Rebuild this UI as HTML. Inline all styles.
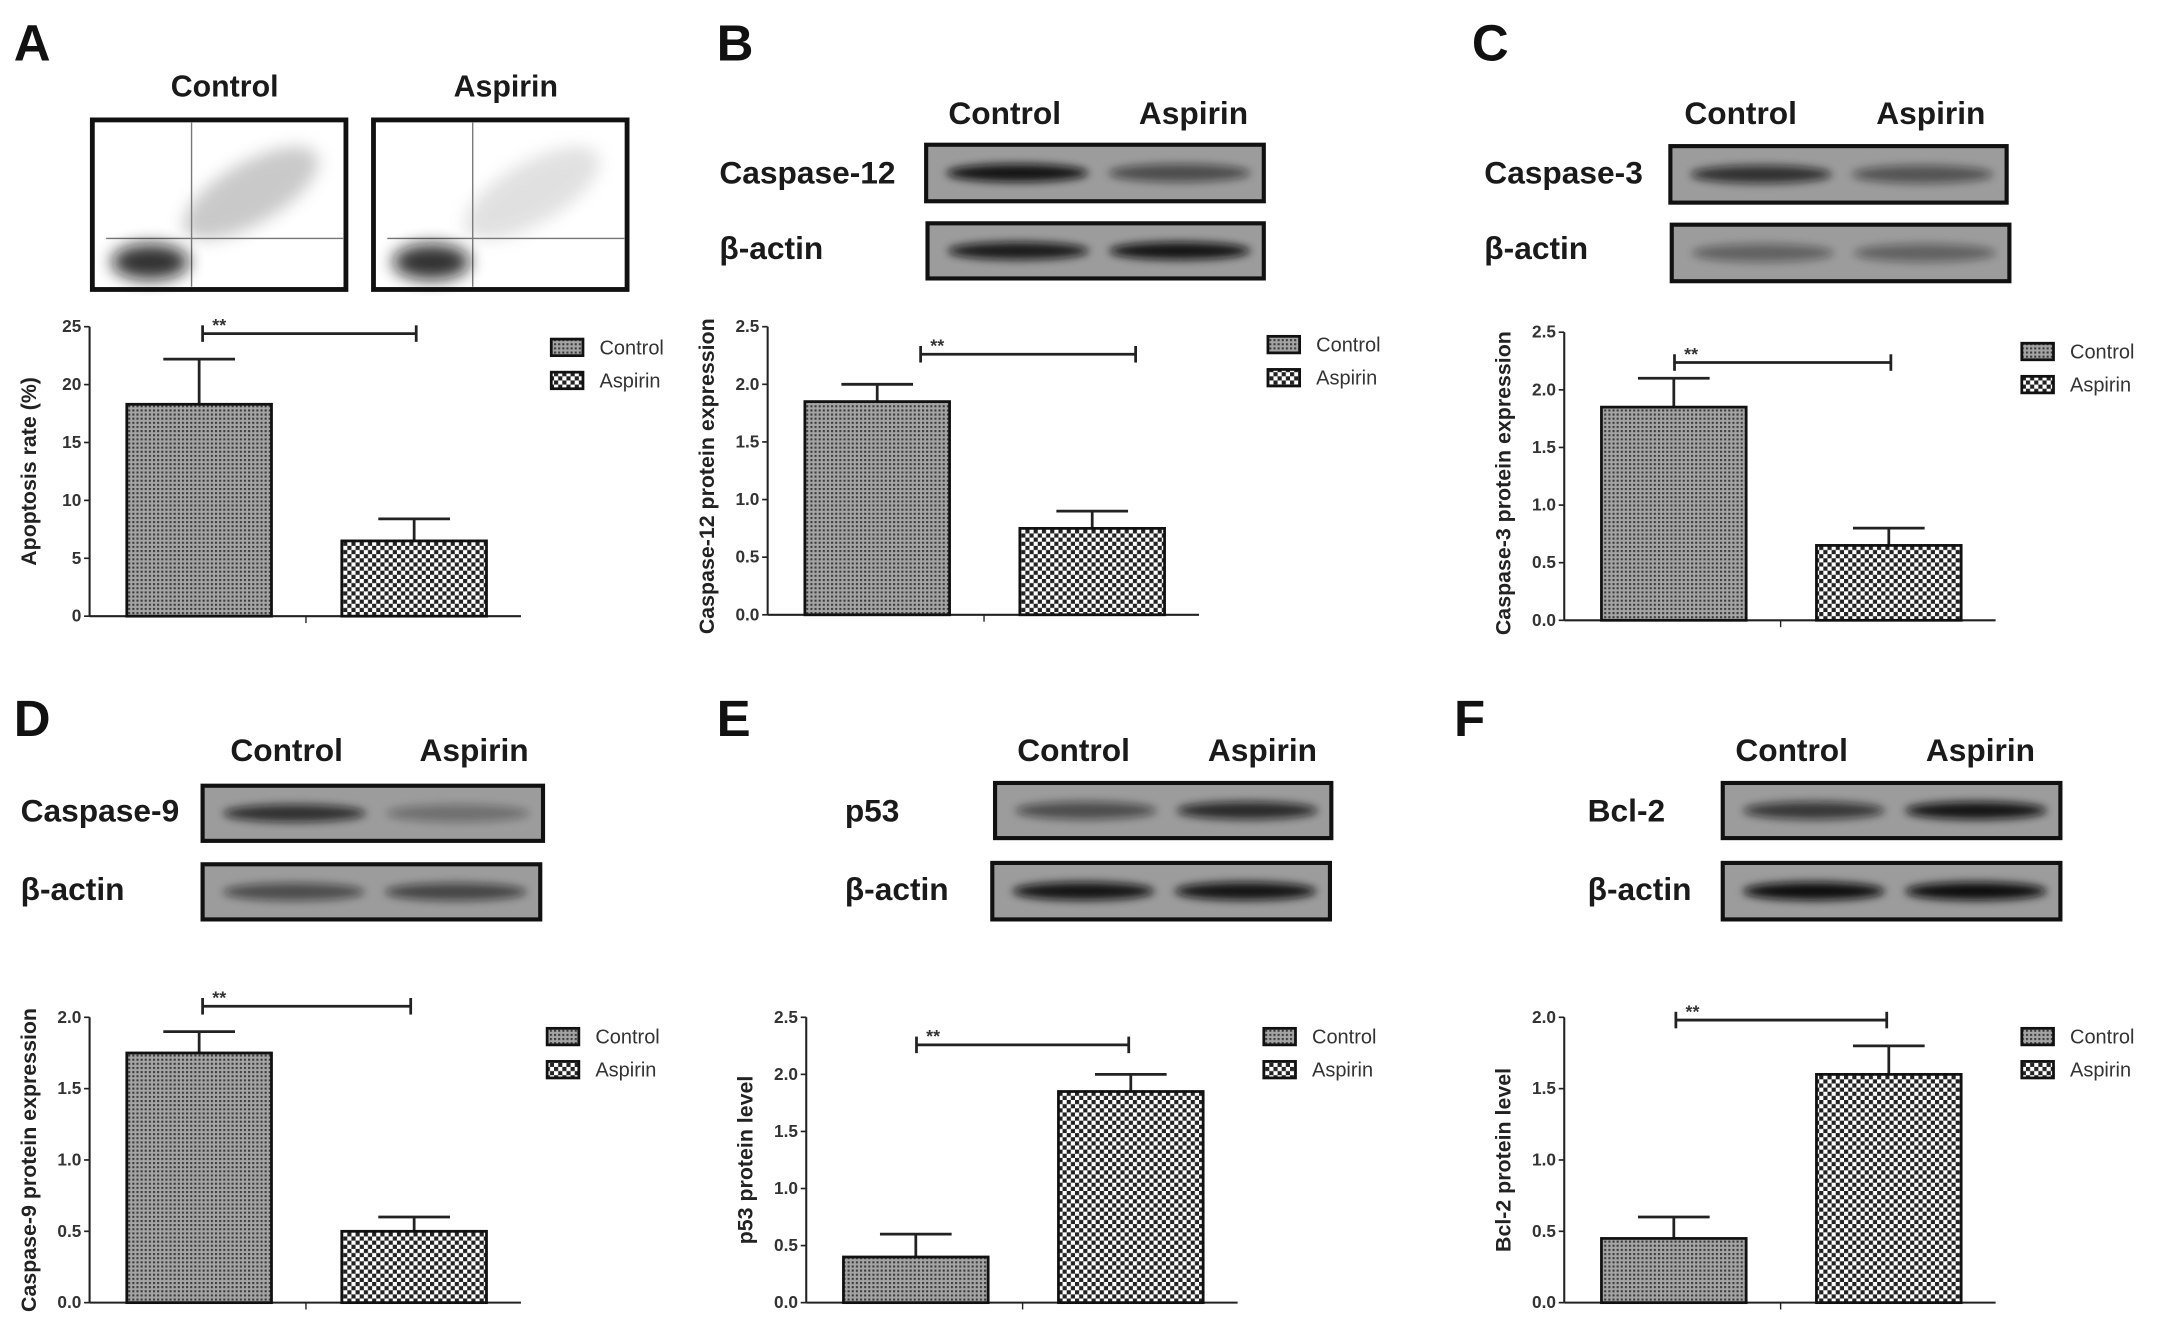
<!DOCTYPE html>
<html><head><meta charset="utf-8"><style>
html,body{margin:0;padding:0;background:#fff;}
svg{display:block;}
text{font-family:"Liberation Sans",Arial,sans-serif;}
</style></head><body>
<svg id="fig" width="2161" height="1344" viewBox="0 0 1568 975" preserveAspectRatio="none" xmlns="http://www.w3.org/2000/svg">
<defs>
<pattern id="pc" width="3" height="3" patternUnits="userSpaceOnUse"><rect width="3" height="3" fill="#a4a4a4"/><rect width="1.5" height="1.5" fill="#3a3a3a"/></pattern>
<pattern id="pa" width="6" height="6" patternUnits="userSpaceOnUse"><rect width="6" height="6" fill="#fff"/><rect width="3" height="3" fill="#222"/><rect x="3" y="3" width="3" height="3" fill="#222"/></pattern>
<filter id="bl" x="-20%" y="-100%" width="140%" height="300%"><feGaussianBlur stdDeviation="3"/></filter>
<filter id="bl2" x="-50%" y="-50%" width="200%" height="200%"><feGaussianBlur stdDeviation="6"/></filter>
</defs>
<g id="root"></g>
</svg>
<script>
const NS="http://www.w3.org/2000/svg";
const root=document.getElementById('root');
function mk(tag,attrs,parent,txt){const e=document.createElementNS(NS,tag);for(const k in attrs)e.setAttribute(k,attrs[k]);if(txt!==undefined)e.textContent=txt;(parent||root).appendChild(e);return e;}

// ---- data ----
const categories=["Control","Aspirin"];
const valsA=[18.3,6.5]; const errsA=[22.2,8.4]; const ticksA=[0,5,10,15,20,25];
const valsB=[1.85,0.75]; const errsB=[2.0,0.9]; const ticksB=[0,0.5,1.0,1.5,2.0,2.5];
const valsC=[1.85,0.65]; const errsC=[2.1,0.8]; const ticksC=[0,0.5,1.0,1.5,2.0,2.5];
const valsD=[1.75,0.5]; const errsD=[1.9,0.6]; const ticksD=[0,0.5,1.0,1.5,2.0];
const valsE=[0.4,1.85]; const errsE=[0.6,2.0]; const ticksE=[0,0.5,1.0,1.5,2.0,2.5];
const valsF=[0.45,1.6]; const errsF=[0.6,1.8]; const ticksF=[0,0.5,1.0,1.5,2.0];

function chart(id,cfg,vals,errs,ticks,title,dec){
  const g=mk('g',{});
  
  
  const ymax=ticks[ticks.length-1];
  const y=v=>cfg.y0-(v/ymax)*(cfg.y0-cfg.yTop);
  const ya=mk('line',{x1:cfg.ax,y1:cfg.yTop,x2:cfg.ax,y2:cfg.y0,stroke:'#222','stroke-width':1.5},g);
  
  const xa=mk('line',{x1:cfg.ax,y1:cfg.y0,x2:cfg.ax+313,y2:cfg.y0,stroke:'#222','stroke-width':1.5},g);
  
  mk('line',{x1:cfg.ax+157,y1:cfg.y0,x2:cfg.ax+157,y2:cfg.y0+5,stroke:'#222','stroke-width':1},g);
  ticks.forEach(t=>{
    mk('line',{x1:cfg.ax-4,y1:y(t),x2:cfg.ax,y2:y(t),stroke:'#222','stroke-width':1.2},g);
    const tl=mk('text',{x:cfg.ax-6,y:y(t)+4,'text-anchor':'end','font-size':12.5,'font-weight':'bold',fill:'#333'},g,dec?t.toFixed(1):String(t));
    
  });
  const yt=mk('text',{x:0,y:0,transform:`translate(${cfg.ax-39},${(cfg.yTop+cfg.y0)/2+cfg.tOff}) rotate(-90)`,'text-anchor':'middle','font-size':15.5,'font-weight':'bold',fill:'#222'},g,title);
  
  const xs=[cfg.ax+27,cfg.ax+183];
  vals.forEach((v,i)=>{
    const bx=xs[i],bw=105;
    const e=mk('line',{x1:bx+bw/2,y1:y(errs[i]),x2:bx+bw/2,y2:y(v),stroke:'#222','stroke-width':2},g);
    
    mk('line',{x1:bx+bw/2-26,y1:y(errs[i]),x2:bx+bw/2+26,y2:y(errs[i]),stroke:'#222','stroke-width':2},g);
    const b=mk('rect',{x:bx,y:y(v),width:bw,height:cfg.y0-y(v),fill:i==0?'url(#pc)':'url(#pa)',stroke:'#111','stroke-width':2},g);
    
  });
  const sb=mk('g',{},g);
  mk('line',{x1:cfg.bx1,y1:cfg.by,x2:cfg.bx2,y2:cfg.by,stroke:'#222','stroke-width':2},sb);
  mk('line',{x1:cfg.bx1,y1:cfg.by-6,x2:cfg.bx1,y2:cfg.by+6,stroke:'#222','stroke-width':2},sb);
  mk('line',{x1:cfg.bx2,y1:cfg.by-6,x2:cfg.bx2,y2:cfg.by+6,stroke:'#222','stroke-width':2},sb);
  mk('text',{x:cfg.bx1+7,y:cfg.by-2,'font-size':13,'font-weight':'bold',fill:'#333'},sb,'**');
  categories.forEach((c,i)=>{
    const lg=mk('g',{},g);
    const ly=cfg.ly+i*24;
    mk('rect',{x:cfg.lx,y:ly-6,width:23,height:12,fill:i==0?'url(#pc)':'url(#pa)',stroke:'#111','stroke-width':2},lg);
    mk('text',{x:cfg.lx+35,y:ly+5,'font-size':14.5,fill:'#333'},lg,c);
  });
}

function blot(name,label,lx,ly,bx,by,w,h,ints){
  const g=mk('g',{});
  mk('text',{x:lx,y:ly+8,'font-size':23,'font-weight':'bold',fill:'#1a1a1a'},g,label);
  mk('rect',{x:bx,y:by,width:w,height:h,fill:'#9c9c9c',stroke:'#111','stroke-width':3},g);
  ints.forEach((a,i)=>{
    const cx=bx+w*(i==0?0.27:0.75);
    mk('ellipse',{cx:cx,cy:by+h/2,rx:w*0.21,ry:h*0.16,fill:'#111',opacity:a,filter:'url(#bl)'},g);
  });
}
function header(cx1,cx2,y){
  mk('text',{x:cx1,y:y,'text-anchor':'middle','font-size':23,'font-weight':'bold',fill:'#1a1a1a'},root,'Control');
  mk('text',{x:cx2,y:y,'text-anchor':'middle','font-size':23,'font-weight':'bold',fill:'#1a1a1a'},root,'Aspirin');
}
function letter(t,x,y){const e=mk('text',{x:x,y:y,'font-size':37,'font-weight':'bold',fill:'#111'},root,t);
  }

letter('A',10,44);letter('B',520,44);letter('C',1068,44);letter('D',10,534);letter('E',520,534);letter('F',1055,534);

function flow(name,x,dens){
  const g=mk('g',{});
  mk('rect',{x:x,y:87,width:184,height:123,fill:'#fff',stroke:'#111','stroke-width':3.5},g);
  mk('line',{x1:x+72,y1:89,x2:x+72,y2:208,stroke:'#777','stroke-width':1},g);
  mk('line',{x1:x+10,y1:173,x2:x+182,y2:173,stroke:'#777','stroke-width':1},g);
  mk('ellipse',{cx:x+42,cy:190,rx:28,ry:13,fill:'#111',opacity:0.85,filter:'url(#bl2)'},g);
  mk('ellipse',{cx:x+115,cy:140,rx:55,ry:22,fill:'#888',opacity:dens,filter:'url(#bl2)',transform:`rotate(-30 ${x+115} 140)`},g);
}
mk('text',{x:163,y:70,'text-anchor':'middle','font-size':22,'font-weight':'bold',fill:'#1a1a1a'},root,'Control');
mk('text',{x:367,y:70,'text-anchor':'middle','font-size':22,'font-weight':'bold',fill:'#1a1a1a'},root,'Aspirin');
flow('control',67,0.45);flow('aspirin',271,0.25);

header(729,866,90);
blot('caspase-12','Caspase-12',522,125,672,105,245,41,[0.95,0.55]);
blot('beta-actin-b','β-actin',522,180,673,162,244,40,[0.9,0.95]);
header(1263,1401,90);
blot('caspase-3','Caspase-3',1077,125,1212,106,244,41,[0.75,0.5]);
blot('beta-actin-c','β-actin',1077,180,1213,163,245,41,[0.4,0.4]);
header(208,344,552);
blot('caspase-9','Caspase-9',15,588,147,570,247,40,[0.75,0.3]);
blot('beta-actin-d','β-actin',15,645,147,627,245,40,[0.55,0.6]);
header(779,916,552);
blot('p53','p53',613,588,722,568,244,40,[0.55,0.8]);
blot('beta-actin-e','β-actin',613,645,720,626,245,41,[0.95,0.95]);
header(1300,1437,552);
blot('bcl-2','Bcl-2',1152,588,1250,568,245,40,[0.7,0.95]);
blot('beta-actin-f','β-actin',1152,645,1250,626,245,41,[1,1]);

chart('a',{ax:65,yTop:237,y0:447,bx1:147,bx2:302,by:242,lx:400,ly:252,tOff:0},valsA,errsA,ticksA,'Apoptosis rate (%)',false);
chart('b',{ax:557,yTop:237,y0:446,bx1:668,bx2:824,by:257,lx:920,ly:250,tOff:4},valsB,errsB,ticksB,'Caspase-12 protein expression',true);
chart('c',{ax:1135,yTop:241,y0:450,bx1:1215,bx2:1372,by:263,lx:1467,ly:255,tOff:5},valsC,errsC,ticksC,'Caspase-3 protein expression',true);
chart('d',{ax:65,yTop:738,y0:945,bx1:147,bx2:298,by:730,lx:397,ly:752,tOff:0},valsD,errsD,ticksD,'Caspase-9 protein expression',true);
chart('e',{ax:585,yTop:738,y0:945,bx1:665,bx2:819,by:758,lx:917,ly:752,tOff:0},valsE,errsE,ticksE,'p53 protein level',true);
chart('f',{ax:1135,yTop:738,y0:945,bx1:1216,bx2:1369,by:740,lx:1467,ly:752,tOff:0},valsF,errsF,ticksF,'Bcl-2 protein level',true);
</script>
</body></html>
